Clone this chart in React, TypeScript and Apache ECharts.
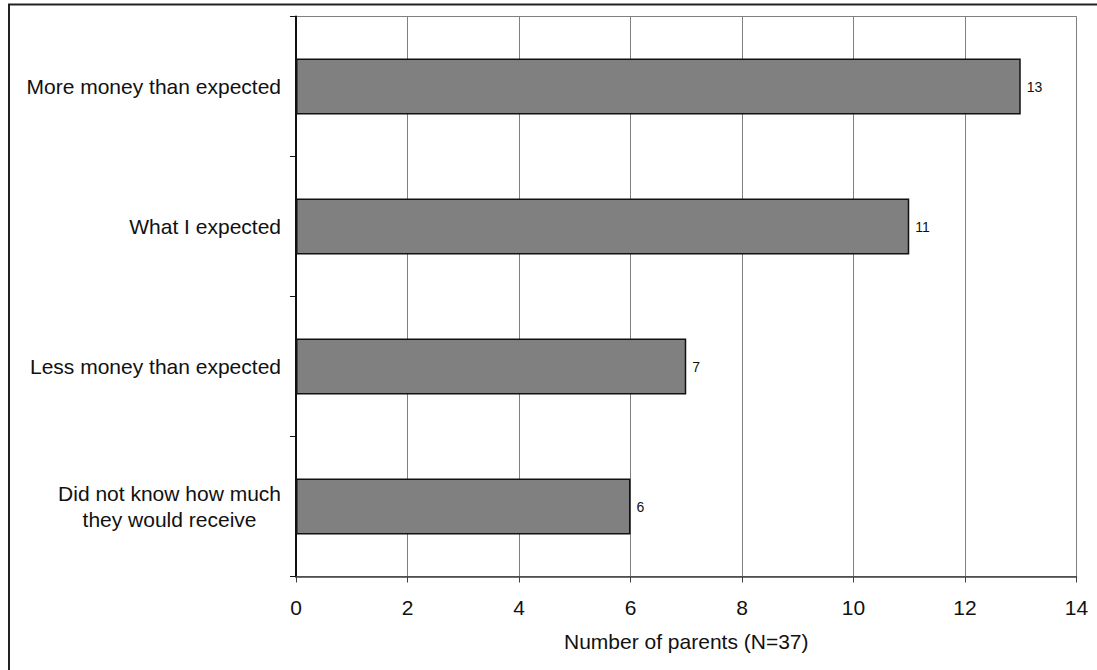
import React, { useEffect, useRef } from "react";
import * as echarts from "echarts";

const categories = [
  "More money than expected",
  "What I expected",
  "Less money than expected",
  "Did not know how much\nthey would receive",
];
const values = [13, 11, 7, 6];
const axisName = "Number of parents (N=37)";
const xMin = 0;
const xMax = 14;
const xStep = 2;

const FONT = '"Liberation Sans", Arial, sans-serif';

export default function App() {
  const ref = useRef<HTMLDivElement>(null);
  useEffect(() => {
    if (!ref.current) return;
    const chart = echarts.init(ref.current, null, { renderer: "svg" });
    chart.setOption({
      animation: false,
      backgroundColor: "#ffffff",
      textStyle: { fontFamily: FONT },
      graphic: [
        {
          type: "rect",
          shape: { x: 9, y: 4.5, width: 1200, height: 800 },
          style: { fill: "none", stroke: "#222", lineWidth: 2 },
          silent: true,
          z: 100,
        },
      ],
      grid: {
        left: 296,
        top: 16.5,
        right: 20.5,
        bottom: 93.5,
        show: true,
        borderColor: "#808080",
        borderWidth: 1,
      },
      xAxis: {
        type: "value",
        min: xMin,
        max: xMax,
        interval: xStep,
        name: axisName,
        nameLocation: "middle",
        nameGap: 54,
        nameTextStyle: { fontSize: 21, color: "#111", fontFamily: FONT },
        axisLine: { show: true, lineStyle: { color: "#404040", width: 1.5 } },
        axisTick: { show: true, length: 6, lineStyle: { color: "#404040" } },
        axisLabel: { fontSize: 21, color: "#111", margin: 20, fontFamily: FONT },
        splitLine: { show: true, lineStyle: { color: "#808080", width: 1 } },
      },
      yAxis: {
        type: "category",
        data: categories,
        inverse: true,
        axisLine: { show: true, lineStyle: { color: "#111", width: 2 } },
        axisTick: { show: true, length: 6, lineStyle: { color: "#111" } },
        axisLabel: {
          fontSize: 21,
          color: "#111",
          margin: 15,
          fontFamily: FONT,
          lineHeight: 26,
          formatter: (v: string) =>
            v.indexOf("\n") >= 0
              ? v
                  .split("\n")
                  .map((s) => "{c|" + s + "}")
                  .join("\n")
              : v,
          rich: {
            c: {
              align: "center",
              fontSize: 21,
              lineHeight: 26,
              color: "#111",
              fontFamily: FONT,
            },
          },
        },
        splitLine: { show: false },
      },
      series: [
        {
          type: "bar",
          data: values,
          barWidth: 56,
          itemStyle: { color: "#808080", borderColor: "#111", borderWidth: 1.5 },
          label: {
            show: true,
            position: "right",
            distance: 6,
            fontSize: 14,
            color: "#111",
            fontFamily: FONT,
          },
        },
      ],
    });
    return () => chart.dispose();
  }, []);
  return (
    <div
      ref={ref}
      style={{ position: "absolute", left: 0, top: 0, width: 1097, height: 670 }}
    />
  );
}
